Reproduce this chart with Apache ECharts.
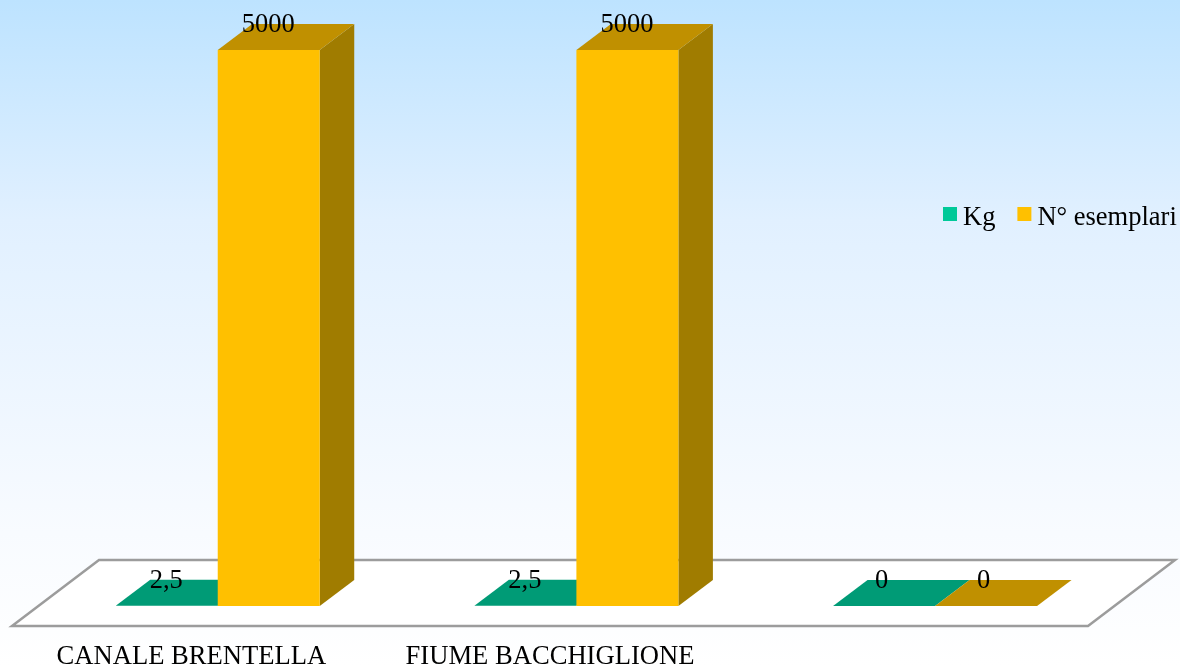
<!DOCTYPE html>
<html><head><meta charset="utf-8">
<style>html,body{margin:0;padding:0;background:#fff}#c{width:1180px;height:666px}</style>
<script src="https://cdn.jsdelivr.net/npm/echarts@6/dist/echarts.min.js"></script>
</head><body><div id="c"></div>
<script>
const categories = ['CANALE BRENTELLA', 'FIUME BACCHIGLIONE', ''];
const kg = [2.5, 2.5, 0];
const esemplari = [5000, 5000, 0];
const FONT = '"Liberation Serif","Times New Roman",serif';
const BAR_W = 102, DX = 34.5, DY = 26, FLOOR_DX = 87, FLOOR_DY = 66, FLOOR_DROP = 20, BAR_SHIFT = 26.4;

function barSeries(name, values, side, front, top, sideCol) {
  return {
    name, type: 'custom', coordinateSystem: 'cartesian2d', clip: false,
    itemStyle: { color: front }, z: side < 0 ? 3 : 4,
    encode: { x: 0, y: 1 },
    data: values.map((v, i) => [i, v]),
    renderItem(params, api) {
      const base = api.coord([api.value(0), 0]);
      const tip = api.coord([api.value(0), api.value(1)]);
      const x0 = base[0] + BAR_SHIFT + (side < 0 ? -BAR_W : 0);
      const x1 = x0 + BAR_W, yb = base[1], yt = tip[1];
      const val = api.value(1);
      const kids = [];
      const poly = (pts, fill) => kids.push({ type: 'polygon', shape: { points: pts }, style: { fill } });
      if (yb - yt > 0.5) {
        poly([[x1, yb], [x1 + DX, yb - DY], [x1 + DX, yt - DY], [x1, yt]], sideCol);
        poly([[x0, yb], [x1, yb], [x1, yt], [x0, yt]], front);
      }
      poly([[x0, yt], [x1, yt], [x1 + DX, yt - DY], [x0 + DX, yt - DY]], top);
      kids.push({ type: 'text', z2: 50, style: {
        x: (x0 + x1) / 2 + (val === 0 ? -2.5 : -0.5), y: yt - DY + 1, text: String(val).replace('.', ','),
        align: 'center', verticalAlign: 'middle', fill: '#000', font: '26.5px ' + FONT } });
      return { type: 'group', children: kids };
    }
  };
}

const floorSeries = {
  type: 'custom', coordinateSystem: 'cartesian2d', clip: false, silent: true, z: 1,
  data: [[0, 0]], encode: { x: 0, y: 1 },
  renderItem(params) {
    const c = params.coordSys, yf = c.y + c.height + FLOOR_DROP, l = c.x, r = c.x + c.width;
    return { type: 'polygon', shape: { points: [[l, yf], [r, yf], [r + FLOOR_DX, yf - FLOOR_DY], [l + FLOOR_DX, yf - FLOOR_DY]] },
      style: { fill: '#ffffff', stroke: '#9c9c9c', lineWidth: 2.5 } };
  }
};

const chart = echarts.init(document.getElementById('c'), null, { renderer: 'canvas' });
chart.setOption({
  animation: false,
  backgroundColor: { type: 'linear', x: 0, y: 0, x2: 0, y2: 1, colorStops: [
    { offset: 0, color: '#BDE3FF' }, { offset: 0.33, color: '#E1F0FF' }, { offset: 0.8, color: '#F8FBFF' }, { offset: 1, color: '#FFFFFF' } ] },
  grid: { left: 12, right: 92, top: 50, bottom: 60, outerBoundsMode: 'none' },
  xAxis: { type: 'category', data: categories, axisLine: { show: false }, axisTick: { show: false },
    axisLabel: { interval: 0, margin: 37.5, color: '#000', fontFamily: FONT, fontSize: 26.6 } },
  yAxis: { type: 'value', min: 0, max: 5000, show: false, splitLine: { show: false } },
  legend: { left: 943, top: 205, width: 400, padding: 0, icon: 'rect', itemWidth: 14, itemHeight: 14, itemGap: 22,
    data: ['Kg', 'N° esemplari'], formatter: '{t|{name}}',
    textStyle: { color: '#000', fontFamily: FONT, fontSize: 26.5,
      rich: { t: { color: '#000', fontFamily: FONT, fontSize: 26.5, padding: [9, 0, 0, 1] } } } },
  series: [
    floorSeries,
    barSeries('Kg', kg, -1, '#00C999', '#009B76', '#007A5C'),
    barSeries('N° esemplari', esemplari, 1, '#FFC000', '#C09000', '#A07C00')
  ]
});
</script></body></html>
